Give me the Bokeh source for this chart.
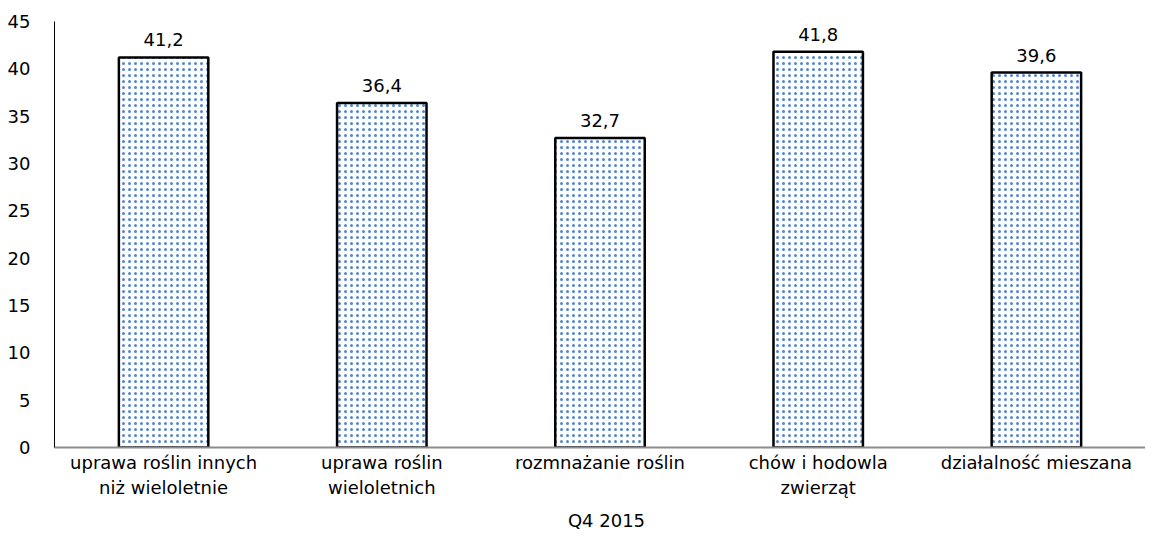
from bokeh.plotting import figure
from bokeh.models import ColumnDataSource, Legend, LegendItem, FactorRange
from bokeh.layouts import column
from bokeh.core.properties import value
from bokeh.embed import file_html
from bokeh.resources import INLINE

categories = ["uprawa roślin innych\nniż wieloletnie", "uprawa roślin\nwieloletnich",
              "rozmnażanie roślin", "chów i hodowla\nzwierząt", "działalność mieszana"]
values = [41.2, 36.4, 32.7, 41.8, 39.6]
labels = ["41,2", "36,4", "32,7", "41,8", "39,6"]
series_name = "Q4 2015"
y_ticks = [0, 5, 10, 15, 20, 25, 30, 35, 40, 45]

FONT = "DejaVu Sans"
FS = "18px"
BAR_STYLE = dict(fill_color="white", line_color="black", line_width=2.5,
                 hatch_pattern="dot", hatch_color="#4f86d8", hatch_scale=6, hatch_weight=1.0)

src = ColumnDataSource(dict(x=categories, top=values, lab=labels))

p = figure(x_range=FactorRange(*categories), y_range=(0, 45),
           frame_width=1091, frame_height=426,
           output_backend="svg", toolbar_location=None,
           min_border_left=54, min_border_right=0, min_border_top=21, min_border_bottom=60)
p.outline_line_color = None
p.xgrid.visible = False
p.ygrid.visible = False
p.x_range.range_padding = 0

r = p.vbar(x="x", top="top", width=0.41, source=src, **BAR_STYLE)

p.text(x="x", y="top", text="lab", source=src, text_align="center", text_baseline="bottom",
       y_offset=-11, text_font=value(FONT), text_font_size=FS, text_color="black")

p.yaxis.ticker = y_ticks
p.yaxis.major_tick_line_color = None
p.yaxis.minor_tick_line_color = None
p.yaxis.axis_line_color = "black"
p.yaxis.axis_line_width = 1
p.yaxis.major_label_text_font = FONT
p.yaxis.major_label_text_font_size = FS
p.yaxis.major_label_text_color = "black"
p.yaxis.major_label_standoff = 18

p.xaxis.major_tick_line_color = None
p.xaxis.minor_tick_line_color = None
p.xaxis.major_tick_out = 0
p.xaxis.axis_line_color = "#8c8c8c"
p.xaxis.axis_line_width = 2
p.xaxis.major_label_text_font = FONT
p.xaxis.major_label_text_font_size = FS
p.xaxis.major_label_text_color = "black"
p.xaxis.major_label_standoff = 4
p.xaxis.major_label_orientation = "horizontal"

# small strip holding the legend under the chart
p2 = figure(width=1145, height=26, x_range=(0, 1), y_range=(0, 1),
            output_backend="svg", toolbar_location=None,
            min_border_left=0, min_border_right=0, min_border_top=0, min_border_bottom=0)
p2.axis.visible = False
p2.xgrid.visible = False
p2.ygrid.visible = False
p2.outline_line_color = None
r2 = p2.vbar(x=[], top=[], width=0.1, **BAR_STYLE)

legend = Legend(items=[LegendItem(label=series_name, renderers=[r2])], orientation="horizontal",
                location="center", border_line_color=None, background_fill_alpha=0,
                label_text_font=FONT, label_text_font_size=FS, label_text_color="black",
                glyph_width=12, glyph_height=12, label_standoff=2, padding=0, margin=0,
                label_height=18)
p2.add_layout(legend, "center")

layout = column(p, p2, spacing=0)

open("out.html", "w").write(file_html(layout, INLINE))
